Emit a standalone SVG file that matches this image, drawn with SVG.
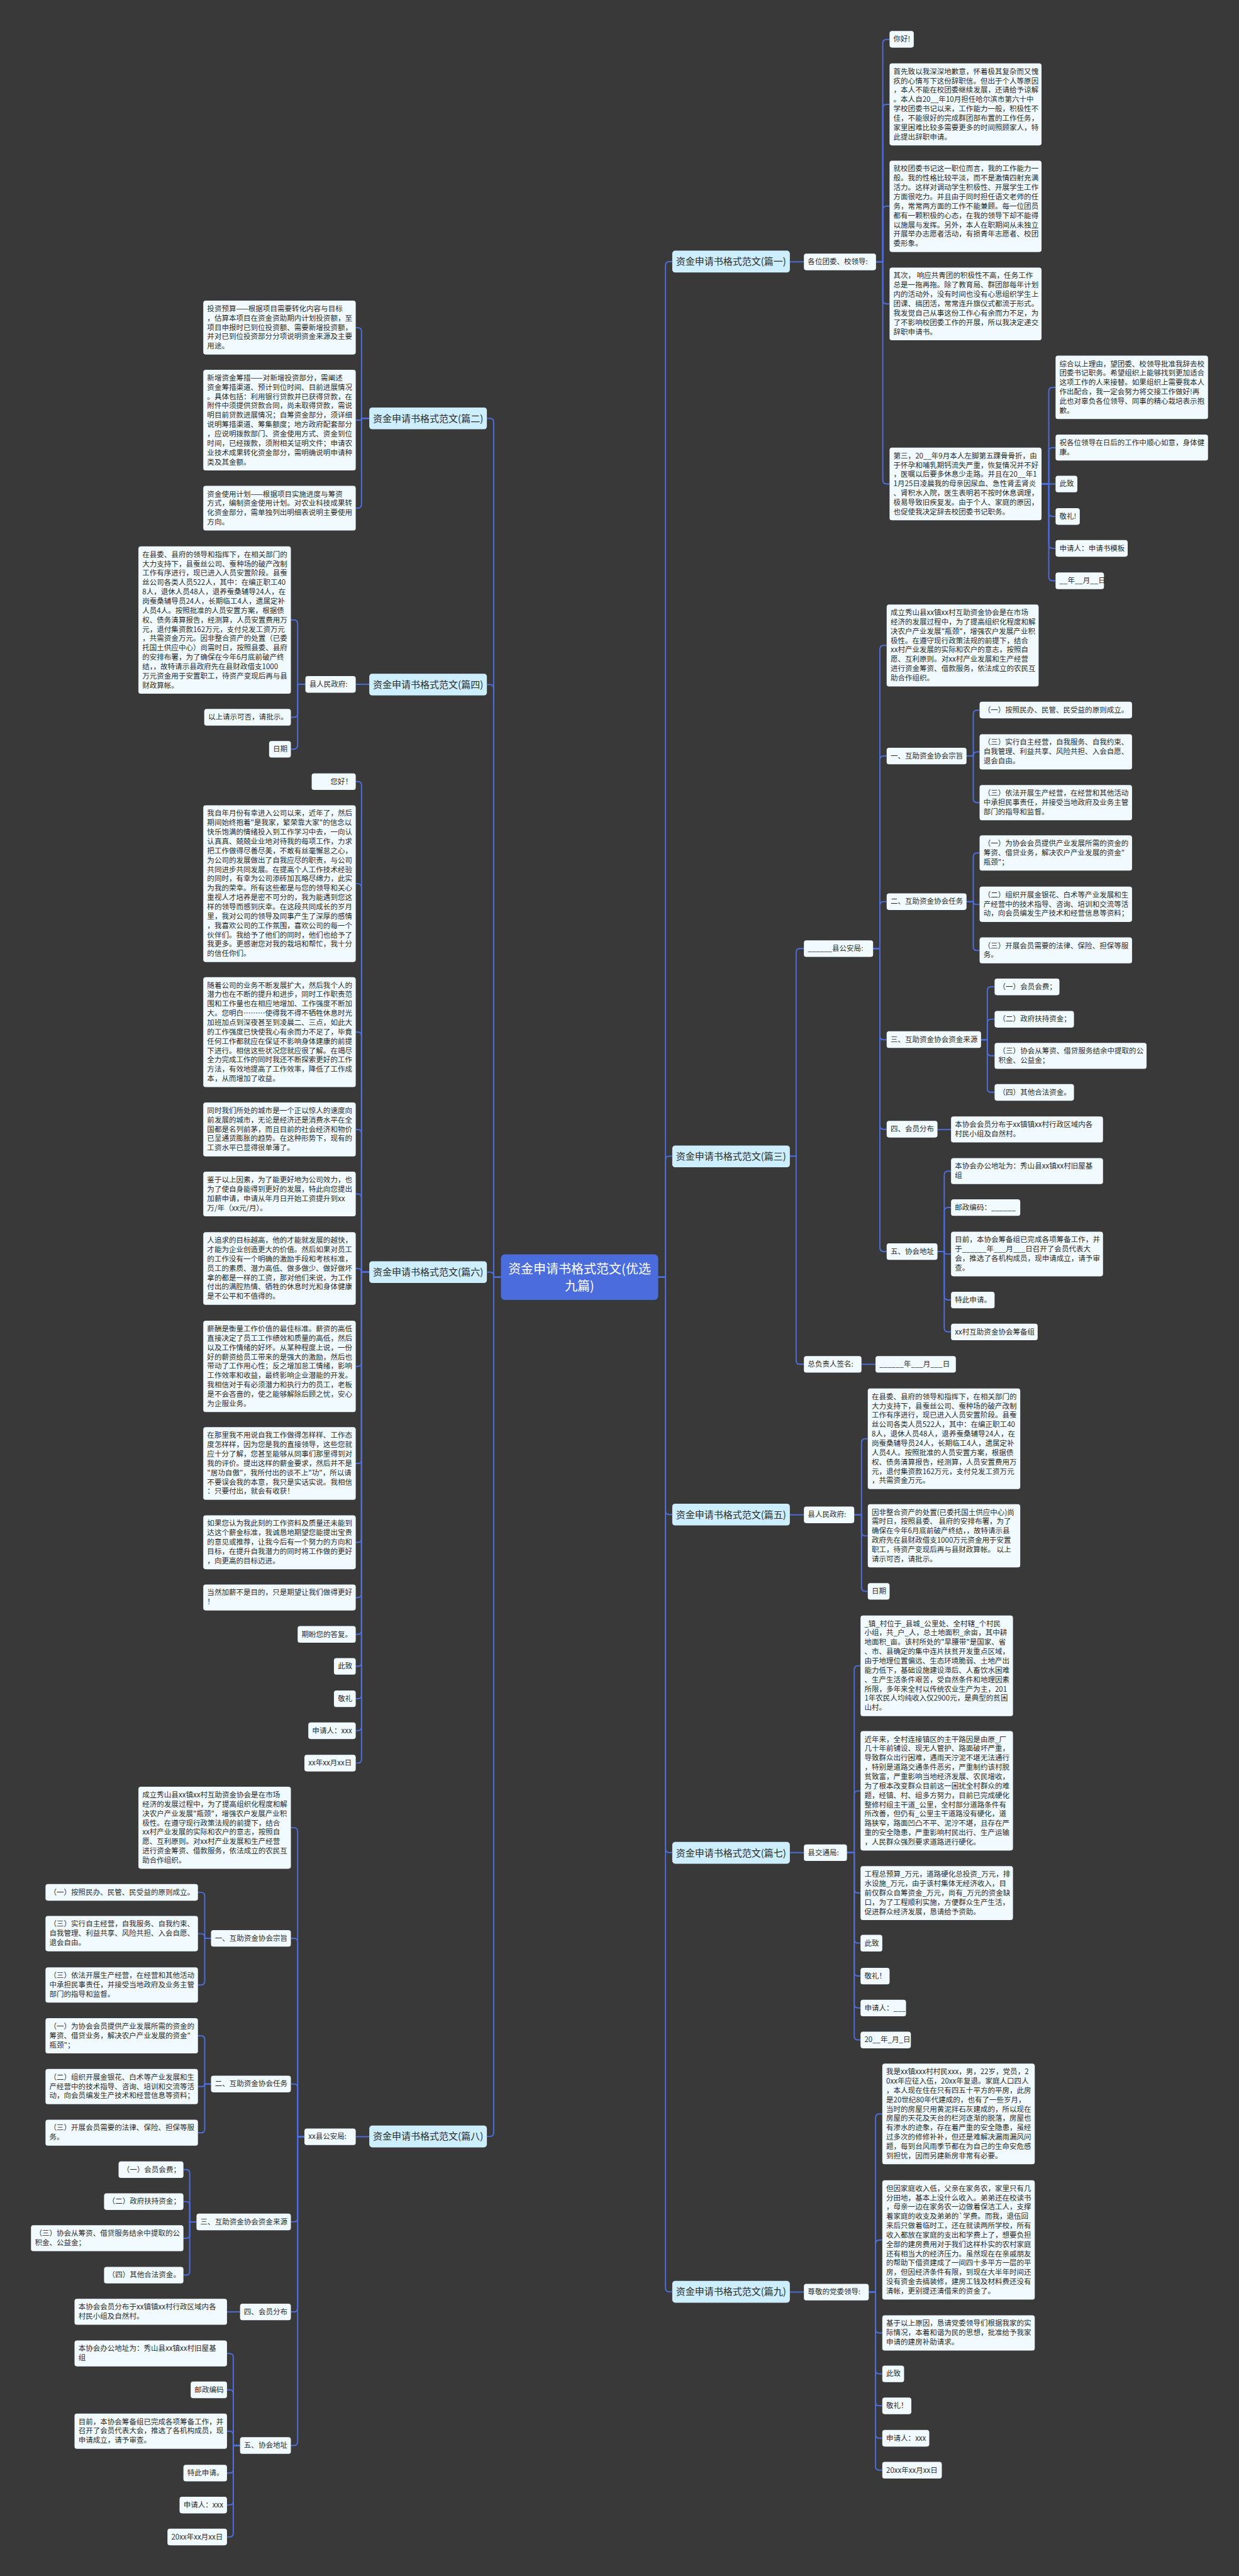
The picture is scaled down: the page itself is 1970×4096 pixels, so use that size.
<svg xmlns="http://www.w3.org/2000/svg" width="1970" height="4096" viewBox="0 0 1970 4096">
<style>
.n rect{fill:#f1fbff}
.n text{font-family:"Noto Sans CJK SC","Noto Sans",sans-serif;font-size:15px;fill:#2b2b2b}
.m rect{fill:#cdeefc}
.m text{font-family:"Noto Sans CJK SC","Noto Sans",sans-serif;font-size:19.5px;fill:#2b2b2b;text-anchor:middle}
.r rect{fill:#4a6cdc}
.r text{font-family:"Noto Sans CJK SC","Noto Sans",sans-serif;font-size:26px;fill:#ffffff;text-anchor:middle}
.c path{fill:none;stroke:#4d6edb;stroke-width:2.5}
</style>
<rect width="1970" height="4096" fill="#3a393a"/>
<g transform="scale(0.76953)">
<g class="c" id="connectors">
<path d="M1360 2639 H1375 V548.5 Q1375 540.5 1383 540.5 H1389"/>
<path d="M1360 2639 H1375 V2397 Q1375 2389 1383 2389 H1389"/>
<path d="M1360 2639 H1375 V3121.5 Q1375 3129.5 1383 3129.5 H1389"/>
<path d="M1360 2639 H1375 V3820 Q1375 3828 1383 3828 H1389"/>
<path d="M1360 2639 H1375 V4727.5 Q1375 4735.5 1383 4735.5 H1389"/>
<path d="M1035 2639 H1020 V872.5 Q1020 864.5 1012 864.5 H1006"/>
<path d="M1035 2639 H1020 V1422.5 Q1020 1414.5 1012 1414.5 H1006"/>
<path d="M1035 2639 H1020 V2636.5 Q1020 2628.5 1012 2628.5 H1006"/>
<path d="M1035 2639 H1020 V4406.5 Q1020 4414.5 1012 4414.5 H1006"/>
<path d="M1632 541 H1661"/>
<path d="M1810 541 H1824 V89.5 Q1824 81.5 1832 81.5 H1838"/>
<path d="M1810 541 H1824 V223.7 Q1824 215.7 1832 215.7 H1838"/>
<path d="M1810 541 H1824 V434 Q1824 426 1832 426 H1838"/>
<path d="M1810 541 H1824 V620 Q1824 628 1832 628 H1838"/>
<path d="M1810 541 H1824 V992 Q1824 1000 1832 1000 H1838"/>
<path d="M2152 1000 H2167 V808.5 Q2167 800.5 2175 800.5 H2181"/>
<path d="M2152 1000 H2167 V933 Q2167 925 2175 925 H2181"/>
<path d="M2152 1000 H2181"/>
<path d="M2152 1000 H2167 V1059 Q2167 1067 2175 1067 H2181"/>
<path d="M2152 1000 H2167 V1125 Q2167 1133 2175 1133 H2181"/>
<path d="M2152 1000 H2167 V1192 Q2167 1200 2175 1200 H2181"/>
<path d="M1632 2389 H1645 V1968 Q1645 1960 1653 1960 H1661"/>
<path d="M1632 2389 H1645 V2811 Q1645 2819 1653 2819 H1661"/>
<path d="M1780 2819 H1809"/>
<path d="M1804 1960 H1818 V1341.7 Q1818 1333.7 1826 1333.7 H1832"/>
<path d="M1804 1960 H1818 V1570 Q1818 1562 1826 1562 H1832"/>
<path d="M1804 1960 H1818 V1871 Q1818 1863 1826 1863 H1832"/>
<path d="M1804 1960 H1818 V2140.5 Q1818 2148.5 1826 2148.5 H1832"/>
<path d="M1804 1960 H1818 V2325.5 Q1818 2333.5 1826 2333.5 H1832"/>
<path d="M1804 1960 H1818 V2578 Q1818 2586 1826 2586 H1832"/>
<path d="M1997 1562 H2011 V1475.5 Q2011 1467.5 2019 1467.5 H2024"/>
<path d="M1997 1562 H2011 V1561.5 Q2011 1553.5 2019 1553.5 H2024"/>
<path d="M1997 1562 H2011 V1650.5 Q2011 1658.5 2019 1658.5 H2024"/>
<path d="M1997 1863 H2011 V1770.5 Q2011 1762.5 2019 1762.5 H2024"/>
<path d="M1997 1863 H2011 Q2011 1868.5 2016.5 1868.5 H2024"/>
<path d="M1997 1863 H2011 V1956 Q2011 1964 2019 1964 H2024"/>
<path d="M2027 2148.5 H2040 V2047 Q2040 2039 2048 2039 H2055"/>
<path d="M2027 2148.5 H2040 V2114 Q2040 2106 2048 2106 H2055"/>
<path d="M2027 2148.5 H2040 V2173.5 Q2040 2181.5 2048 2181.5 H2055"/>
<path d="M2027 2148.5 H2040 V2249 Q2040 2257 2048 2257 H2055"/>
<path d="M1937 2334 H1965"/>
<path d="M1937 2586 H1951 V2428 Q1951 2420 1959 2420 H1965"/>
<path d="M1937 2586 H1951 V2503 Q1951 2495 1959 2495 H1965"/>
<path d="M1937 2586 H1951 Q1951 2591 1956 2591 H1965"/>
<path d="M1937 2586 H1951 V2678 Q1951 2686 1959 2686 H1965"/>
<path d="M1937 2586 H1951 V2744 Q1951 2752 1959 2752 H1965"/>
<path d="M1632 3130 H1661"/>
<path d="M1765 3130 H1780 V2981 Q1780 2973 1788 2973 H1793"/>
<path d="M1765 3130 H1780 V3165.5 Q1780 3173.5 1788 3173.5 H1793"/>
<path d="M1765 3130 H1780 V3280 Q1780 3288 1788 3288 H1793"/>
<path d="M1632 3828 H1661"/>
<path d="M1750 3828 H1765 V3450 Q1765 3442 1773 3442 H1778"/>
<path d="M1750 3828 H1765 V3708.5 Q1765 3700.5 1773 3700.5 H1778"/>
<path d="M1750 3828 H1765 V3903.5 Q1765 3911.5 1773 3911.5 H1778"/>
<path d="M1750 3828 H1765 V4007 Q1765 4015 1773 4015 H1778"/>
<path d="M1750 3828 H1765 V4075 Q1765 4083 1773 4083 H1778"/>
<path d="M1750 3828 H1765 V4141 Q1765 4149 1773 4149 H1778"/>
<path d="M1750 3828 H1765 V4207 Q1765 4215 1773 4215 H1778"/>
<path d="M1632 4736 H1661"/>
<path d="M1795 4736 H1809 V4376 Q1809 4368 1817 4368 H1823"/>
<path d="M1795 4736 H1809 V4636.5 Q1809 4628.5 1817 4628.5 H1823"/>
<path d="M1795 4736 H1809 V4812.5 Q1809 4820.5 1817 4820.5 H1823"/>
<path d="M1795 4736 H1809 V4897 Q1809 4905 1817 4905 H1823"/>
<path d="M1795 4736 H1809 V4963 Q1809 4971 1817 4971 H1823"/>
<path d="M1795 4736 H1809 V5030 Q1809 5038 1817 5038 H1823"/>
<path d="M1795 4736 H1809 V5096 Q1809 5104 1817 5104 H1823"/>
<path d="M763 864.5 H747 V685 Q747 677 739 677 H735"/>
<path d="M763 864.5 H747 Q747 868 743.5 868 H735"/>
<path d="M763 864.5 H747 V1042 Q747 1050 739 1050 H735"/>
<path d="M763 1414 H735"/>
<path d="M631 1414 H615 V1289 Q615 1281 607 1281 H601"/>
<path d="M631 1414 H615 V1474 Q615 1482 607 1482 H601"/>
<path d="M631 1414 H615 V1540 Q615 1548 607 1548 H601"/>
<path d="M763 2628.5 H747 V1623 Q747 1615 739 1615 H735"/>
<path d="M763 2628.5 H747 V1834 Q747 1826 739 1826 H735"/>
<path d="M763 2628.5 H747 V2140.5 Q747 2132.5 739 2132.5 H735"/>
<path d="M763 2628.5 H747 V2342 Q747 2334 739 2334 H735"/>
<path d="M763 2628.5 H747 V2475 Q747 2467 739 2467 H735"/>
<path d="M763 2628.5 H747 Q747 2621 739.5 2621 H735"/>
<path d="M763 2628.5 H747 V2815.5 Q747 2823.5 739 2823.5 H735"/>
<path d="M763 2628.5 H747 V3016 Q747 3024 739 3024 H735"/>
<path d="M763 2628.5 H747 V3179 Q747 3187 739 3187 H735"/>
<path d="M763 2628.5 H747 V3293 Q747 3301 739 3301 H735"/>
<path d="M763 2628.5 H747 V3369 Q747 3377 739 3377 H735"/>
<path d="M763 2628.5 H747 V3435 Q747 3443 739 3443 H735"/>
<path d="M763 2628.5 H747 V3502 Q747 3510 739 3510 H735"/>
<path d="M763 2628.5 H747 V3568 Q747 3576 739 3576 H735"/>
<path d="M763 2628.5 H747 V3635 Q747 3643 739 3643 H735"/>
<path d="M763 4415 H735"/>
<path d="M629 4415 H615 V3784.5 Q615 3776.5 607 3776.5 H601"/>
<path d="M629 4415 H615 V4013 Q615 4005 607 4005 H601"/>
<path d="M629 4415 H615 V4314 Q615 4306 607 4306 H601"/>
<path d="M629 4415 H615 V4583 Q615 4591 607 4591 H601"/>
<path d="M629 4415 H615 V4769 Q615 4777 607 4777 H601"/>
<path d="M629 4415 H615 V5045 Q615 5053 607 5053 H601"/>
<path d="M436 4005 H423 V3918 Q423 3910 415 3910 H409"/>
<path d="M436 4005 H423 V4003.5 Q423 3995.5 415 3995.5 H409"/>
<path d="M436 4005 H423 V4093.5 Q423 4101.5 415 4101.5 H409"/>
<path d="M436 4306 H423 V4214.5 Q423 4206.5 415 4206.5 H409"/>
<path d="M436 4306 H423 Q423 4311.5 417.5 4311.5 H409"/>
<path d="M436 4306 H423 V4399 Q423 4407 415 4407 H409"/>
<path d="M406 4591 H392 V4491 Q392 4483 384 4483 H379"/>
<path d="M406 4591 H392 V4557 Q392 4549 384 4549 H379"/>
<path d="M406 4591 H392 V4617 Q392 4625 384 4625 H379"/>
<path d="M406 4591 H392 V4693 Q392 4701 384 4701 H379"/>
<path d="M496 4777 H469"/>
<path d="M496 5053 H482 V4871 Q482 4863 474 4863 H469"/>
<path d="M496 5053 H482 V4946 Q482 4938 474 4938 H469"/>
<path d="M496 5053 H482 V5031.5 Q482 5023.5 474 5023.5 H469"/>
<path d="M496 5053 H482 V5102 Q482 5110 474 5110 H469"/>
<path d="M496 5053 H482 V5168 Q482 5176 474 5176 H469"/>
<path d="M496 5053 H482 V5234 Q482 5242 474 5242 H469"/>
</g>

<g id="root" class="r"><rect x="1035" y="2592" width="325" height="94" rx="8"/><text x="1197.5" y="2631">资金申请书格式范文(优选</text><text x="1197.5" y="2666">九篇)</text></g>

<g id="p1" class="m"><rect x="1389" y="518" width="243" height="45" rx="6"/><text x="1510.5" y="547.5">资金申请书格式范文(篇一)</text></g>
<g id="p3" class="m"><rect x="1389" y="2367" width="243" height="45" rx="6"/><text x="1510.5" y="2396.5">资金申请书格式范文(篇三)</text></g>
<g id="p5" class="m"><rect x="1389" y="3107" width="243" height="45" rx="6"/><text x="1510.5" y="3136.5">资金申请书格式范文(篇五)</text></g>
<g id="p7" class="m"><rect x="1389" y="3806" width="243" height="45" rx="6"/><text x="1510.5" y="3835.5">资金申请书格式范文(篇七)</text></g>
<g id="p9" class="m"><rect x="1389" y="4713" width="243" height="45" rx="6"/><text x="1510.5" y="4742.5">资金申请书格式范文(篇九)</text></g>
<g id="p2" class="m"><rect x="763" y="842" width="243" height="45" rx="6"/><text x="884.5" y="871.5">资金申请书格式范文(篇二)</text></g>
<g id="p4" class="m"><rect x="763" y="1392" width="243" height="45" rx="6"/><text x="884.5" y="1421.5">资金申请书格式范文(篇四)</text></g>
<g id="p6" class="m"><rect x="763" y="2606" width="243" height="45" rx="6"/><text x="884.5" y="2635.5">资金申请书格式范文(篇六)</text></g>
<g id="p8" class="m"><rect x="763" y="4392" width="243" height="45" rx="6"/><text x="884.5" y="4421.5">资金申请书格式范文(篇八)</text></g>

<!-- 篇一 -->
<g id="p1-a" class="n"><rect x="1661" y="524" width="149" height="34.3" rx="5"/><text x="1669" y="546">各位团委、校领导:</text></g>
<g id="p1-a1" class="n"><rect x="1838" y="64" width="50" height="34.3" rx="5"/><text x="1846" y="86">你好!</text></g>
<g id="p1-a2" class="n"><rect x="1838" y="131" width="314" height="169.4" rx="5"/><text x="1846" y="153"><tspan x="1846">首先致以我深深地歉意，怀着极其复杂而又愧</tspan><tspan x="1846" dy="19.3">疚的心情写下这份辞职信。但出于个人等原因</tspan><tspan x="1846" dy="19.3">，本人不能在校团委继续发展，还请给予谅解</tspan><tspan x="1846" dy="19.3">。本人自20__年10月担任哈尔滨市第六十中</tspan><tspan x="1846" dy="19.3">学校团委书记以来，工作能力一般，积极性不</tspan><tspan x="1846" dy="19.3">佳，不能很好的完成群团部布置的工作任务，</tspan><tspan x="1846" dy="19.3">家里困难比较多需要更多的时间照顾家人，特</tspan><tspan x="1846" dy="19.3">此提出辞职申请。</tspan></text></g>
<g id="p1-a3" class="n"><rect x="1838" y="332" width="314" height="188.7" rx="5"/><text x="1846" y="354"><tspan x="1846">就校团委书记这一职位而言，我的工作能力一</tspan><tspan x="1846" dy="19.3">般。我的性格比较平淡，而不是激情四射充满</tspan><tspan x="1846" dy="19.3">活力。这样对调动学生积极性、开展学生工作</tspan><tspan x="1846" dy="19.3">方面很吃力。并且由于同时担任语文老师的任</tspan><tspan x="1846" dy="19.3">务，常常两方面的工作不能兼顾。每一位团员</tspan><tspan x="1846" dy="19.3">都有一颗积极的心态，在我的领导下却不能得</tspan><tspan x="1846" dy="19.3">以施展与发挥。另外，本人在职期间从未独立</tspan><tspan x="1846" dy="19.3">开展举办志愿者活动，有损青年志愿者、校团</tspan><tspan x="1846" dy="19.3">委形象。</tspan></text></g>
<g id="p1-a4" class="n"><rect x="1838" y="553" width="314" height="150.1" rx="5"/><text x="1846" y="575"><tspan x="1846">其次， 响应共青团的积极性不高，任务工作</tspan><tspan x="1846" dy="19.3">总是一拖再拖。除了教育局、群团部每年计划</tspan><tspan x="1846" dy="19.3">内的活动外，没有时间也没有心思组织学生上</tspan><tspan x="1846" dy="19.3">团课、搞团活，常常连升旗仪式都流于形式。</tspan><tspan x="1846" dy="19.3">我发觉自己从事这份工作心有余而力不足，为</tspan><tspan x="1846" dy="19.3">了不影响校团委工作的开展，所以我决定递交</tspan><tspan x="1846" dy="19.3">辞职申请书。</tspan></text></g>
<g id="p1-a5" class="n"><rect x="1838" y="925" width="314" height="150.1" rx="5"/><text x="1846" y="947"><tspan x="1846">第三，20__年9月本人左脚第五踝骨骨折，由</tspan><tspan x="1846" dy="19.3">于怀孕和哺乳期钙流失严重，恢复情况并不好</tspan><tspan x="1846" dy="19.3">，医嘱以后要多休息少走路。并且在20__年1</tspan><tspan x="1846" dy="19.3">1月25日凌晨我的母亲因尿血、急性肾盂肾炎</tspan><tspan x="1846" dy="19.3">、肾积水入院，医生表明若不按时休息调理，</tspan><tspan x="1846" dy="19.3">极易导致旧疾复发。由于个人、家庭的原因，</tspan><tspan x="1846" dy="19.3">也促使我决定辞去校团委书记职务。</tspan></text></g>
<g id="p1-b1" class="n"><rect x="2181" y="735" width="315" height="130.8" rx="5"/><text x="2189" y="757"><tspan x="2189">综合以上理由，望团委、校领导批准我辞去校</tspan><tspan x="2189" dy="19.3">团委书记职务。希望组织上能够找到更加适合</tspan><tspan x="2189" dy="19.3">这项工作的人来接替。如果组织上需要我本人</tspan><tspan x="2189" dy="19.3">作出配合，我一定会努力将交接工作做好!再</tspan><tspan x="2189" dy="19.3">此也对辜负各位领导、同事的精心栽培表示抱</tspan><tspan x="2189" dy="19.3">歉。</tspan></text></g>
<g id="p1-b2" class="n"><rect x="2181" y="898" width="315" height="53.6" rx="5"/><text x="2189" y="920"><tspan x="2189">祝各位领导在日后的工作中顺心如意，身体健</tspan><tspan x="2189" dy="19.3">康。</tspan></text></g>
<g id="p1-b3" class="n"><rect x="2181" y="983" width="45" height="34.3" rx="5"/><text x="2189" y="1005">此致</text></g>
<g id="p1-b4" class="n"><rect x="2181" y="1050" width="50" height="34.3" rx="5"/><text x="2189" y="1072">敬礼!</text></g>
<g id="p1-b5" class="n"><rect x="2181" y="1116" width="149" height="34.3" rx="5"/><text x="2189" y="1138">申请人：申请书模板</text></g>
<g id="p1-b6" class="n"><rect x="2181" y="1183" width="100" height="34.3" rx="5"/><text x="2189" y="1205">__年__月__日</text></g>

<!-- 篇三 -->
<g id="p3-a" class="n"><rect x="1661" y="1943" width="143" height="34.3" rx="5"/><text x="1669" y="1965">______县公安局:</text></g>
<g id="p3-b" class="n"><rect x="1661" y="2802" width="119" height="34.3" rx="5"/><text x="1669" y="2824">总负责人签名:</text></g>
<g id="p3-b1" class="n"><rect x="1809" y="2802" width="166" height="34.3" rx="5"/><text x="1817" y="2824">______年___月___日</text></g>
<g id="p3-a1" class="n"><rect x="1832" y="1249" width="314" height="169.4" rx="5"/><text x="1840" y="1271"><tspan x="1840">成立秀山县xx镇xx村互助资金协会是在市场</tspan><tspan x="1840" dy="19.3">经济的发展过程中，为了提高组织化程度和解</tspan><tspan x="1840" dy="19.3">决农户产业发展"瓶颈"，增强农户发展产业积</tspan><tspan x="1840" dy="19.3">极性。在遵守现行政策法规的前提下，结合</tspan><tspan x="1840" dy="19.3">xx村产业发展的实际和农户的意志，按照自</tspan><tspan x="1840" dy="19.3">愿、互利原则。对xx村产业发展和生产经营</tspan><tspan x="1840" dy="19.3">进行资金筹资、借款服务，依法成立的农民互</tspan><tspan x="1840" dy="19.3">助合作组织。</tspan></text></g>
<g id="p3-a2" class="n"><rect x="1832" y="1545" width="165" height="34.3" rx="5"/><text x="1840" y="1567">一、互助资金协会宗旨</text></g>
<g id="p3-a3" class="n"><rect x="1832" y="1846" width="165" height="34.3" rx="5"/><text x="1840" y="1868">二、互助资金协会任务</text></g>
<g id="p3-a4" class="n"><rect x="1832" y="2131" width="195" height="34.3" rx="5"/><text x="1840" y="2153">三、互助资金协会资金来源</text></g>
<g id="p3-a5" class="n"><rect x="1832" y="2316" width="105" height="34.3" rx="5"/><text x="1840" y="2338">四、会员分布</text></g>
<g id="p3-a6" class="n"><rect x="1832" y="2569" width="105" height="34.3" rx="5"/><text x="1840" y="2591">五、协会地址</text></g>
<g id="p3-a2-1" class="n"><rect x="2024" y="1450" width="315" height="34.3" rx="5"/><text x="2032" y="1472">（一）按照民办、民管、民受益的原则成立。</text></g>
<g id="p3-a2-2" class="n"><rect x="2024" y="1517" width="315" height="72.9" rx="5"/><text x="2032" y="1539"><tspan x="2032">（三）实行自主经营，自我服务、自我约束、</tspan><tspan x="2032" dy="19.3">自我管理、利益共享、风险共担、入会自愿、</tspan><tspan x="2032" dy="19.3">退会自由。</tspan></text></g>
<g id="p3-a2-3" class="n"><rect x="2024" y="1622" width="315" height="72.9" rx="5"/><text x="2032" y="1644"><tspan x="2032">（三）依法开展生产经营，在经营和其他活动</tspan><tspan x="2032" dy="19.3">中承担民事责任，并接受当地政府及业务主管</tspan><tspan x="2032" dy="19.3">部门的指导和监督。</tspan></text></g>
<g id="p3-a3-1" class="n"><rect x="2024" y="1726" width="315" height="72.9" rx="5"/><text x="2032" y="1748"><tspan x="2032">（一）为协会会员提供产业发展所需的资金的</tspan><tspan x="2032" dy="19.3">筹资、借贷业务，解决农户产业发展的资金"</tspan><tspan x="2032" dy="19.3">瓶颈"；</tspan></text></g>
<g id="p3-a3-2" class="n"><rect x="2024" y="1832" width="315" height="72.9" rx="5"/><text x="2032" y="1854"><tspan x="2032">（二）组织开展金银花、白术等产业发展和生</tspan><tspan x="2032" dy="19.3">产经营中的技术指导、咨询、培训和交流等活</tspan><tspan x="2032" dy="19.3">动，向会员编发生产技术和经营信息等资料；</tspan></text></g>
<g id="p3-a3-3" class="n"><rect x="2024" y="1937" width="315" height="53.6" rx="5"/><text x="2032" y="1959"><tspan x="2032">（三）开展会员需要的法律、保险、担保等服</tspan><tspan x="2032" dy="19.3">务。</tspan></text></g>
<g id="p3-a4-1" class="n"><rect x="2055" y="2022" width="134" height="34.3" rx="5"/><text x="2063" y="2044">（一）会员会费；</text></g>
<g id="p3-a4-2" class="n"><rect x="2055" y="2089" width="164" height="34.3" rx="5"/><text x="2063" y="2111">（二）政府扶持资金；</text></g>
<g id="p3-a4-3" class="n"><rect x="2055" y="2155" width="314" height="53.6" rx="5"/><text x="2063" y="2177"><tspan x="2063">（三）协会从筹资、借贷服务结余中提取的公</tspan><tspan x="2063" dy="19.3">积金、公益金；</tspan></text></g>
<g id="p3-a4-4" class="n"><rect x="2055" y="2240" width="164" height="34.3" rx="5"/><text x="2063" y="2262">（四）其他合法资金。</text></g>
<g id="p3-a5-1" class="n"><rect x="1965" y="2307" width="314" height="53.6" rx="5"/><text x="1973" y="2329"><tspan x="1973">本协会会员分布于xx镇镇xx村行政区域内各</tspan><tspan x="1973" dy="19.3">村民小组及自然村。</tspan></text></g>
<g id="p3-a6-1" class="n"><rect x="1965" y="2393" width="314" height="53.6" rx="5"/><text x="1973" y="2415"><tspan x="1973">本协会办公地址为：秀山县xx镇xx村旧屋基</tspan><tspan x="1973" dy="19.3">组</tspan></text></g>
<g id="p3-a6-2" class="n"><rect x="1965" y="2478" width="143" height="34.3" rx="5"/><text x="1973" y="2500">邮政编码：______</text></g>
<g id="p3-a6-3" class="n"><rect x="1965" y="2545" width="314" height="92.2" rx="5"/><text x="1973" y="2567"><tspan x="1973">目前，本协会筹备组已完成各项筹备工作，并</tspan><tspan x="1973" dy="19.3">于______年___月___日召开了会员代表大</tspan><tspan x="1973" dy="19.3">会，推选了各机构成员，现申请成立，请予审</tspan><tspan x="1973" dy="19.3">查。</tspan></text></g>
<g id="p3-a6-4" class="n"><rect x="1965" y="2669" width="90" height="34.3" rx="5"/><text x="1973" y="2691">特此申请。</text></g>
<g id="p3-a6-5" class="n"><rect x="1965" y="2735" width="179" height="34.3" rx="5"/><text x="1973" y="2757">xx村互助资金协会筹备组</text></g>

<!-- 篇五 -->
<g id="p5-a" class="n"><rect x="1661" y="3113" width="104" height="34.3" rx="5"/><text x="1669" y="3135">县人民政府:</text></g>
<g id="p5-a1" class="n"><rect x="1793" y="2869" width="315" height="208" rx="5"/><text x="1801" y="2891"><tspan x="1801">在县委、县府的领导和指挥下，在相关部门的</tspan><tspan x="1801" dy="19.3">大力支持下，县蚕丝公司、蚕种场的破产改制</tspan><tspan x="1801" dy="19.3">工作有序进行，现已进入人员安置阶段。县蚕</tspan><tspan x="1801" dy="19.3">丝公司各类人员522人，其中：在编正职工40</tspan><tspan x="1801" dy="19.3">8人，退休人员48人，退养蚕桑辅导24人，在</tspan><tspan x="1801" dy="19.3">岗蚕桑辅导员24人，长期临工4人，遗属定补</tspan><tspan x="1801" dy="19.3">人员4人。按照批准的人员安置方案，根据债</tspan><tspan x="1801" dy="19.3">权、债务清算报告，经测算，人员安置费用万</tspan><tspan x="1801" dy="19.3">元，退付集资款162万元，支付兑发工资万元</tspan><tspan x="1801" dy="19.3">，共需资金万元。</tspan></text></g>
<g id="p5-a2" class="n"><rect x="1793" y="3108" width="315" height="130.8" rx="5"/><text x="1801" y="3130"><tspan x="1801">因非整合资产的处置(已委托国土供应中心)尚</tspan><tspan x="1801" dy="19.3">需时日，按照县委、 县府的安排布署，为了</tspan><tspan x="1801" dy="19.3">确保在今年6月底前破产终结，，故特请示县</tspan><tspan x="1801" dy="19.3">政府先在县财政借支1000万元资金用于安置</tspan><tspan x="1801" dy="19.3">职工，待资产变现后再与县财政算帐。 以上</tspan><tspan x="1801" dy="19.3">请示可否，请批示。</tspan></text></g>
<g id="p5-a3" class="n"><rect x="1793" y="3271" width="45" height="34.3" rx="5"/><text x="1801" y="3293">日期</text></g>

<!-- 篇七 -->
<g id="p7-a" class="n"><rect x="1661" y="3811" width="89" height="34.3" rx="5"/><text x="1669" y="3833">县交通局:</text></g>
<g id="p7-a1" class="n"><rect x="1778" y="3338" width="315" height="208" rx="5"/><text x="1786" y="3360"><tspan x="1786">_镇_村位于_县城_公里处、全村辖_个村民</tspan><tspan x="1786" dy="19.3">小组，共_户_人，总土地面积_余亩，其中耕</tspan><tspan x="1786" dy="19.3">地面积_亩。该村所处的"旱腰带"是国家、省</tspan><tspan x="1786" dy="19.3">、市、县确定的集中连片扶贫开发重点区域，</tspan><tspan x="1786" dy="19.3">由于地理位置偏远、生态环境脆弱、土地产出</tspan><tspan x="1786" dy="19.3">能力低下，基础设施建设滞后、人畜饮水困难</tspan><tspan x="1786" dy="19.3">、生产生活条件艰苦，受自然条件和地理因素</tspan><tspan x="1786" dy="19.3">所限，多年来全村以传统农业生产为主，201</tspan><tspan x="1786" dy="19.3">1年农民人均纯收入仅2900元，是典型的贫困</tspan><tspan x="1786" dy="19.3">山村。</tspan></text></g>
<g id="p7-a2" class="n"><rect x="1778" y="3577" width="315" height="246.6" rx="5"/><text x="1786" y="3599"><tspan x="1786">近年来，全村连接镇区的主干路因是由原_厂</tspan><tspan x="1786" dy="19.3">几十年前铺设、现无人管护、路面破坏严重，</tspan><tspan x="1786" dy="19.3">导致群众出行困难，遇雨天泞泥不堪无法通行</tspan><tspan x="1786" dy="19.3">，特别是道路交通条件恶劣，严重制约该村脱</tspan><tspan x="1786" dy="19.3">贫致富，严重影响当地经济发展、农民增收，</tspan><tspan x="1786" dy="19.3">为了根本改变群众目前这一困扰全村群众的难</tspan><tspan x="1786" dy="19.3">题，经镇、村、组多方努力，目前已完成硬化</tspan><tspan x="1786" dy="19.3">整修村组主干道_公里，全村部分道路条件有</tspan><tspan x="1786" dy="19.3">所改善，但仍有_公里主干道路没有硬化，道</tspan><tspan x="1786" dy="19.3">路狭窄，路面凹凸不平、泥泞不堪，且存在严</tspan><tspan x="1786" dy="19.3">重的安全隐患，严重影响村民出行、生产运输</tspan><tspan x="1786" dy="19.3">，人民群众强烈要求道路进行硬化。</tspan></text></g>
<g id="p7-a3" class="n"><rect x="1778" y="3856" width="315" height="111.5" rx="5"/><text x="1786" y="3878"><tspan x="1786">工程总预算_万元，道路硬化总投资_万元，排</tspan><tspan x="1786" dy="19.3">水设施_万元，由于该村集体无经济收入，目</tspan><tspan x="1786" dy="19.3">前仅群众自筹资金_万元，尚有_万元的资金缺</tspan><tspan x="1786" dy="19.3">口，为了工程顺利实施，方便群众生产生活，</tspan><tspan x="1786" dy="19.3">促进群众经济发展，恳请给予资助。</tspan></text></g>
<g id="p7-a4" class="n"><rect x="1778" y="3998" width="45" height="34.3" rx="5"/><text x="1786" y="4020">此致</text></g>
<g id="p7-a5" class="n"><rect x="1778" y="4066" width="60" height="34.3" rx="5"/><text x="1786" y="4088">敬礼！</text></g>
<g id="p7-a6" class="n"><rect x="1778" y="4132" width="94" height="34.3" rx="5"/><text x="1786" y="4154">申请人：___</text></g>
<g id="p7-a7" class="n"><rect x="1778" y="4198" width="104" height="34.3" rx="5"/><text x="1786" y="4220">20__年_月_日</text></g>

<!-- 篇九 -->
<g id="p9-a" class="n"><rect x="1661" y="4719" width="134" height="34.3" rx="5"/><text x="1669" y="4741">尊敬的党委领导:</text></g>
<g id="p9-a1" class="n"><rect x="1823" y="4264" width="315" height="208" rx="5"/><text x="1831" y="4286"><tspan x="1831">我是xx镇xxx村村民xxx，男，22岁，党员，2</tspan><tspan x="1831" dy="19.3">0xx年应征入伍，20xx年复退。家庭人口四人</tspan><tspan x="1831" dy="19.3">，本人现在住在只有四五十平方的平房，此房</tspan><tspan x="1831" dy="19.3">是20世纪80年代建成的，也有了一些岁月，</tspan><tspan x="1831" dy="19.3">当时的房屋只用黄泥拌石灰建成的，所以现在</tspan><tspan x="1831" dy="19.3">房屋的天花及天台的栏河逐渐的脱落，房屋也</tspan><tspan x="1831" dy="19.3">有渗水的迹象，存在着严重的安全隐患，虽经</tspan><tspan x="1831" dy="19.3">过多次的修修补补，但还是难解决漏雨漏风问</tspan><tspan x="1831" dy="19.3">题，每到台风雨季节都在为自己的生命安危感</tspan><tspan x="1831" dy="19.3">到担忧，因而另建新房非常有必要。</tspan></text></g>
<g id="p9-a2" class="n"><rect x="1823" y="4505" width="315" height="246.6" rx="5"/><text x="1831" y="4527"><tspan x="1831">但因家庭收入低，父亲在家务农，家里只有几</tspan><tspan x="1831" dy="19.3">分田地，基本上没什么收入。弟弟还在校读书</tspan><tspan x="1831" dy="19.3">，母亲一边在家务农一边做着保洁工人，支撑</tspan><tspan x="1831" dy="19.3">着家庭的收支及弟弟的`学费。而我，退伍回</tspan><tspan x="1831" dy="19.3">来后只做着临时工，还在就读两所学校，所有</tspan><tspan x="1831" dy="19.3">收入都放在家庭的支出和学费上了，想要负担</tspan><tspan x="1831" dy="19.3">全部的建房费用对于我们这样朴实的农村家庭</tspan><tspan x="1831" dy="19.3">还有相当大的经济压力。虽然现在在亲戚朋友</tspan><tspan x="1831" dy="19.3">的帮助下借资建成了一间四十多平方一层的平</tspan><tspan x="1831" dy="19.3">房，但因经济条件有限，到现在大半年时间还</tspan><tspan x="1831" dy="19.3">没有资金去搞装修，建房工钱及材料费还没有</tspan><tspan x="1831" dy="19.3">清帐，更别提还清借来的资金了。</tspan></text></g>
<g id="p9-a3" class="n"><rect x="1823" y="4784" width="315" height="72.9" rx="5"/><text x="1831" y="4806"><tspan x="1831">基于以上原因，恳请党委领导们根据我家的实</tspan><tspan x="1831" dy="19.3">际情况，本着和谐为民的思想，批准给予我家</tspan><tspan x="1831" dy="19.3">申请的建房补助请求。</tspan></text></g>
<g id="p9-a4" class="n"><rect x="1823" y="4888" width="45" height="34.3" rx="5"/><text x="1831" y="4910">此致</text></g>
<g id="p9-a5" class="n"><rect x="1823" y="4954" width="60" height="34.3" rx="5"/><text x="1831" y="4976">敬礼！</text></g>
<g id="p9-a6" class="n"><rect x="1823" y="5021" width="97" height="34.3" rx="5"/><text x="1831" y="5043">申请人：xxx</text></g>
<g id="p9-a7" class="n"><rect x="1823" y="5087" width="123" height="34.3" rx="5"/><text x="1831" y="5109">20xx年xx月xx日</text></g>

<!-- 篇二 -->
<g id="p2-a1" class="n"><rect x="420" y="621" width="315" height="111.5" rx="5"/><text x="428" y="643"><tspan x="428">投资预算——根据项目需要转化内容与目标</tspan><tspan x="428" dy="19.3">，估算本项目在资金资助期内计划投资额，至</tspan><tspan x="428" dy="19.3">项目申报时已到位投资额、需要新增投资额，</tspan><tspan x="428" dy="19.3">并对已到位投资部分分项说明资金来源及主要</tspan><tspan x="428" dy="19.3">用途。</tspan></text></g>
<g id="p2-a2" class="n"><rect x="420" y="764" width="315" height="208" rx="5"/><text x="428" y="786"><tspan x="428">新增资金筹措——对新增投资部分，需阐述</tspan><tspan x="428" dy="19.3">资金筹措渠道、预计到位时间、目前进展情况</tspan><tspan x="428" dy="19.3">。具体包括：利用银行贷款并已获得贷款，在</tspan><tspan x="428" dy="19.3">附件中须提供贷款合同，尚未取得贷款，需说</tspan><tspan x="428" dy="19.3">明目前贷款进展情况；自筹资金部分，须详细</tspan><tspan x="428" dy="19.3">说明筹措渠道、筹集额度；地方政府配套部分</tspan><tspan x="428" dy="19.3">，应说明拨款部门、资金使用方式、资金到位</tspan><tspan x="428" dy="19.3">时间，已经拨款，须附相关证明文件；申请农</tspan><tspan x="428" dy="19.3">业技术成果转化资金部分，需明确说明申请种</tspan><tspan x="428" dy="19.3">类及其金额。</tspan></text></g>
<g id="p2-a3" class="n"><rect x="420" y="1004" width="315" height="92.2" rx="5"/><text x="428" y="1026"><tspan x="428">资金使用计划——根据项目实施进度与筹资</tspan><tspan x="428" dy="19.3">方式，编制资金使用计划。对农业科技成果转</tspan><tspan x="428" dy="19.3">化资金部分，需单独列出明细表说明主要使用</tspan><tspan x="428" dy="19.3">方向。</tspan></text></g>

<!-- 篇四 -->
<g id="p4-a" class="n"><rect x="631" y="1397" width="104" height="34.3" rx="5"/><text x="639" y="1419">县人民政府:</text></g>
<g id="p4-a1" class="n"><rect x="286" y="1129" width="315" height="304.5" rx="5"/><text x="294" y="1151"><tspan x="294">在县委、县府的领导和指挥下，在相关部门的</tspan><tspan x="294" dy="19.3">大力支持下，县蚕丝公司、蚕种场的破产改制</tspan><tspan x="294" dy="19.3">工作有序进行，现已进入人员安置阶段。县蚕</tspan><tspan x="294" dy="19.3">丝公司各类人员522人，其中：在编正职工40</tspan><tspan x="294" dy="19.3">8人，退休人员48人，退养蚕桑辅导24人，在</tspan><tspan x="294" dy="19.3">岗蚕桑辅导员24人，长期临工4人，遗属定补</tspan><tspan x="294" dy="19.3">人员4人。按照批准的人员安置方案，根据债</tspan><tspan x="294" dy="19.3">权、债务清算报告，经测算，人员安置费用万</tspan><tspan x="294" dy="19.3">元，退付集资款162万元，支付兑发工资万元</tspan><tspan x="294" dy="19.3">，共需资金万元。因非整合资产的处置（已委</tspan><tspan x="294" dy="19.3">托国土供应中心）尚需时日，按照县委、县府</tspan><tspan x="294" dy="19.3">的安排布署，为了确保在今年6月底前破产终</tspan><tspan x="294" dy="19.3">结，，故特请示县政府先在县财政借支1000</tspan><tspan x="294" dy="19.3">万元资金用于安置职工，待资产变现后再与县</tspan><tspan x="294" dy="19.3">财政算帐。</tspan></text></g>
<g id="p4-a2" class="n"><rect x="422" y="1465" width="179" height="34.3" rx="5"/><text x="430" y="1487">以上请示可否，请批示。</text></g>
<g id="p4-a3" class="n"><rect x="556" y="1531" width="45" height="34.3" rx="5"/><text x="564" y="1553">日期</text></g>

<!-- 篇六 -->
<g id="p6-a1" class="n"><rect x="644" y="1598" width="91" height="34.3" rx="5"/><text x="683" y="1620">您好！</text></g>
<g id="p6-a2" class="n"><rect x="420" y="1664" width="315" height="323.8" rx="5"/><text x="428" y="1686"><tspan x="428">我自年月份有幸进入公司以来，近年了，然后</tspan><tspan x="428" dy="19.3">期间始终抱着"是我家，繁荣靠大家"的信念以</tspan><tspan x="428" dy="19.3">快乐饱满的情绪投入到工作学习中去，一向认</tspan><tspan x="428" dy="19.3">认真真、兢兢业业地对待我的每项工作，力求</tspan><tspan x="428" dy="19.3">把工作做得尽善尽美，不敢有丝毫懈怠之心，</tspan><tspan x="428" dy="19.3">为公司的发展做出了自我应尽的职责，与公司</tspan><tspan x="428" dy="19.3">共同进步共同发展。在提高个人工作技术经验</tspan><tspan x="428" dy="19.3">的同时，有幸为公司添砖加瓦略尽绵力，此实</tspan><tspan x="428" dy="19.3">为我的荣幸。所有这些都是与您的领导和关心</tspan><tspan x="428" dy="19.3">重视人才培养是密不可分的，我为能遇到您这</tspan><tspan x="428" dy="19.3">样的领导而感到庆幸。在这段共同成长的岁月</tspan><tspan x="428" dy="19.3">里，我对公司的领导及同事产生了深厚的感情</tspan><tspan x="428" dy="19.3">，我喜欢公司的工作氛围，喜欢公司的每一个</tspan><tspan x="428" dy="19.3">伙伴们。我给予了他们的同时，他们也给予了</tspan><tspan x="428" dy="19.3">我更多。更感谢您对我的栽培和帮忙，我十分</tspan><tspan x="428" dy="19.3">的信任你们。</tspan></text></g>
<g id="p6-a3" class="n"><rect x="420" y="2019" width="315" height="227.3" rx="5"/><text x="428" y="2041"><tspan x="428">随着公司的业务不断发展扩大，然后我个人的</tspan><tspan x="428" dy="19.3">潜力也在不断的提升和进步，同时工作职责范</tspan><tspan x="428" dy="19.3">围和工作量也在相应地增加、工作强度不断加</tspan><tspan x="428" dy="19.3">大。您明白………使得我不得不牺牲休息时光</tspan><tspan x="428" dy="19.3">加班加点到深夜甚至到凌晨二、三点，如此大</tspan><tspan x="428" dy="19.3">的工作强度已快使我心有余而力不足了，毕竟</tspan><tspan x="428" dy="19.3">任何工作都就应在保证不影响身体建康的前提</tspan><tspan x="428" dy="19.3">下进行。相信这些状况您就应很了解。在竭尽</tspan><tspan x="428" dy="19.3">全力完成工作的同时我还不断探索更好的工作</tspan><tspan x="428" dy="19.3">方法，有效地提高了工作效率，降低了工作成</tspan><tspan x="428" dy="19.3">本，从而增加了收益。</tspan></text></g>
<g id="p6-a4" class="n"><rect x="420" y="2278" width="315" height="111.5" rx="5"/><text x="428" y="2300"><tspan x="428">同时我们所处的城市是一个正以惊人的速度向</tspan><tspan x="428" dy="19.3">前发展的城市，无论是经济还是消费水平在全</tspan><tspan x="428" dy="19.3">国都是名列前茅，而且目前的社会经济和物价</tspan><tspan x="428" dy="19.3">已呈通货膨胀的趋势。在这种形势下，现有的</tspan><tspan x="428" dy="19.3">工资水平已显得很单薄了。</tspan></text></g>
<g id="p6-a5" class="n"><rect x="420" y="2421" width="315" height="92.2" rx="5"/><text x="428" y="2443"><tspan x="428">鉴于以上因素，为了能更好地为公司效力，也</tspan><tspan x="428" dy="19.3">为了使自身能得到更好的发展，特此向您提出</tspan><tspan x="428" dy="19.3">加薪申请，申请从年月日开始工资提升到xx</tspan><tspan x="428" dy="19.3">万/年（xx元/月）。</tspan></text></g>
<g id="p6-a6" class="n"><rect x="420" y="2546" width="315" height="150.1" rx="5"/><text x="428" y="2568"><tspan x="428">人追求的目标越高，他的才能就发展的越快，</tspan><tspan x="428" dy="19.3">才能为企业创造更大的价值。然后如果对员工</tspan><tspan x="428" dy="19.3">的工作没有一个明确的激励手段和考核标准，</tspan><tspan x="428" dy="19.3">员工的素质、潜力高低、做多做少、做好做坏</tspan><tspan x="428" dy="19.3">拿的都是一样的工资，那对他们来说，为工作</tspan><tspan x="428" dy="19.3">付出的满腔热情、牺牲的休息时光和身体健康</tspan><tspan x="428" dy="19.3">是不公平和不值得的。</tspan></text></g>
<g id="p6-a7" class="n"><rect x="420" y="2729" width="315" height="188.7" rx="5"/><text x="428" y="2751"><tspan x="428">薪酬是衡量工作价值的最佳标准。薪资的高低</tspan><tspan x="428" dy="19.3">直接决定了员工工作绩效和质量的高低，然后</tspan><tspan x="428" dy="19.3">以及工作情绪的好坏。从某种程度上说，一份</tspan><tspan x="428" dy="19.3">好的薪资给员工带来的是强大的激励，然后也</tspan><tspan x="428" dy="19.3">带动了工作用心性；反之增加怠工情绪，影响</tspan><tspan x="428" dy="19.3">工作效率和收益，最终影响企业潜能的开发。</tspan><tspan x="428" dy="19.3">我相信对于有必须潜力和执行力的员工，老板</tspan><tspan x="428" dy="19.3">是不会吝啬的，使之能够解除后顾之忧，安心</tspan><tspan x="428" dy="19.3">为企服业务。</tspan></text></g>
<g id="p6-a8" class="n"><rect x="420" y="2949" width="315" height="150.1" rx="5"/><text x="428" y="2971"><tspan x="428">在那里我不用说自我工作做得怎样样、工作态</tspan><tspan x="428" dy="19.3">度怎样样，因为您是我的直接领导，这些您就</tspan><tspan x="428" dy="19.3">应十分了解，您甚至能够从同事们那里得到对</tspan><tspan x="428" dy="19.3">我的评价。提出这样的薪金要求，然后并不是</tspan><tspan x="428" dy="19.3">"居功自傲"，我所付出的谈不上"功"，所以请</tspan><tspan x="428" dy="19.3">不要误会我的本意，我只是实话实说。我相信</tspan><tspan x="428" dy="19.3">：只要付出，就会有收获！</tspan></text></g>
<g id="p6-a9" class="n"><rect x="420" y="3131" width="315" height="111.5" rx="5"/><text x="428" y="3153"><tspan x="428">如果您认为我此刻的工作资料及质量还未能到</tspan><tspan x="428" dy="19.3">达这个薪金标准，我诚恳地期望您能提出宝贵</tspan><tspan x="428" dy="19.3">的意见或推荐，让我今后有一个努力的方向和</tspan><tspan x="428" dy="19.3">目标，在提升自我潜力的同时将工作做的更好</tspan><tspan x="428" dy="19.3">，向更高的目标迈进。</tspan></text></g>
<g id="p6-a10" class="n"><rect x="420" y="3274" width="315" height="53.6" rx="5"/><text x="428" y="3296"><tspan x="428">当然加薪不是目的，只是期望让我们做得更好</tspan><tspan x="428" dy="19.3">！</tspan></text></g>
<g id="p6-a11" class="n"><rect x="615" y="3360" width="120" height="34.3" rx="5"/><text x="623" y="3382">期盼您的答复。</text></g>
<g id="p6-a12" class="n"><rect x="690" y="3426" width="45" height="34.3" rx="5"/><text x="698" y="3448">此致</text></g>
<g id="p6-a13" class="n"><rect x="690" y="3493" width="45" height="34.3" rx="5"/><text x="698" y="3515">敬礼</text></g>
<g id="p6-a14" class="n"><rect x="637" y="3559" width="98" height="34.3" rx="5"/><text x="645" y="3581">申请人：xxx</text></g>
<g id="p6-a15" class="n"><rect x="629" y="3626" width="106" height="34.3" rx="5"/><text x="637" y="3648">xx年xx月xx日</text></g>

<!-- 篇八 -->
<g id="p8-a" class="n"><rect x="629" y="4398" width="106" height="34.3" rx="5"/><text x="637" y="4420">xx县公安局:</text></g>
<g id="p8-a1" class="n"><rect x="286" y="3692" width="315" height="169.4" rx="5"/><text x="294" y="3714"><tspan x="294">成立秀山县xx镇xx村互助资金协会是在市场</tspan><tspan x="294" dy="19.3">经济的发展过程中，为了提高组织化程度和解</tspan><tspan x="294" dy="19.3">决农户产业发展"瓶颈"，增强农户发展产业积</tspan><tspan x="294" dy="19.3">极性。在遵守现行政策法规的前提下，结合</tspan><tspan x="294" dy="19.3">xx村产业发展的实际和农户的意志，按照自</tspan><tspan x="294" dy="19.3">愿、互利原则。对xx村产业发展和生产经营</tspan><tspan x="294" dy="19.3">进行资金筹资、借款服务，依法成立的农民互</tspan><tspan x="294" dy="19.3">助合作组织。</tspan></text></g>
<g id="p8-a2" class="n"><rect x="436" y="3988" width="165" height="34.3" rx="5"/><text x="444" y="4010">一、互助资金协会宗旨</text></g>
<g id="p8-a3" class="n"><rect x="436" y="4289" width="165" height="34.3" rx="5"/><text x="444" y="4311">二、互助资金协会任务</text></g>
<g id="p8-a4" class="n"><rect x="406" y="4574" width="195" height="34.3" rx="5"/><text x="414" y="4596">三、互助资金协会资金来源</text></g>
<g id="p8-a5" class="n"><rect x="496" y="4760" width="105" height="34.3" rx="5"/><text x="504" y="4782">四、会员分布</text></g>
<g id="p8-a6" class="n"><rect x="496" y="5036" width="105" height="34.3" rx="5"/><text x="504" y="5058">五、协会地址</text></g>
<g id="p8-a2-1" class="n"><rect x="94" y="3893" width="315" height="34.3" rx="5"/><text x="102" y="3915">（一）按照民办、民管、民受益的原则成立。</text></g>
<g id="p8-a2-2" class="n"><rect x="94" y="3959" width="315" height="72.9" rx="5"/><text x="102" y="3981"><tspan x="102">（三）实行自主经营，自我服务、自我约束、</tspan><tspan x="102" dy="19.3">自我管理、利益共享、风险共担、入会自愿、</tspan><tspan x="102" dy="19.3">退会自由。</tspan></text></g>
<g id="p8-a2-3" class="n"><rect x="94" y="4065" width="315" height="72.9" rx="5"/><text x="102" y="4087"><tspan x="102">（三）依法开展生产经营，在经营和其他活动</tspan><tspan x="102" dy="19.3">中承担民事责任，并接受当地政府及业务主管</tspan><tspan x="102" dy="19.3">部门的指导和监督。</tspan></text></g>
<g id="p8-a3-1" class="n"><rect x="94" y="4170" width="315" height="72.9" rx="5"/><text x="102" y="4192"><tspan x="102">（一）为协会会员提供产业发展所需的资金的</tspan><tspan x="102" dy="19.3">筹资、借贷业务，解决农户产业发展的资金"</tspan><tspan x="102" dy="19.3">瓶颈"；</tspan></text></g>
<g id="p8-a3-2" class="n"><rect x="94" y="4275" width="315" height="72.9" rx="5"/><text x="102" y="4297"><tspan x="102">（二）组织开展金银花、白术等产业发展和生</tspan><tspan x="102" dy="19.3">产经营中的技术指导、咨询、培训和交流等活</tspan><tspan x="102" dy="19.3">动，向会员编发生产技术和经营信息等资料；</tspan></text></g>
<g id="p8-a3-3" class="n"><rect x="94" y="4380" width="315" height="53.6" rx="5"/><text x="102" y="4402"><tspan x="102">（三）开展会员需要的法律、保险、担保等服</tspan><tspan x="102" dy="19.3">务。</tspan></text></g>
<g id="p8-a4-1" class="n"><rect x="245" y="4466" width="134" height="34.3" rx="5"/><text x="253" y="4488">（一）会员会费；</text></g>
<g id="p8-a4-2" class="n"><rect x="215" y="4532" width="164" height="34.3" rx="5"/><text x="223" y="4554">（二）政府扶持资金；</text></g>
<g id="p8-a4-3" class="n"><rect x="64" y="4598" width="315" height="53.6" rx="5"/><text x="72" y="4620"><tspan x="72">（三）协会从筹资、借贷服务结余中提取的公</tspan><tspan x="72" dy="19.3">积金、公益金；</tspan></text></g>
<g id="p8-a4-4" class="n"><rect x="215" y="4684" width="164" height="34.3" rx="5"/><text x="223" y="4706">（四）其他合法资金。</text></g>
<g id="p8-a5-1" class="n"><rect x="154" y="4750" width="315" height="53.6" rx="5"/><text x="162" y="4772"><tspan x="162">本协会会员分布于xx镇镇xx村行政区域内各</tspan><tspan x="162" dy="19.3">村民小组及自然村。</tspan></text></g>
<g id="p8-a6-1" class="n"><rect x="154" y="4836" width="315" height="53.6" rx="5"/><text x="162" y="4858"><tspan x="162">本协会办公地址为：秀山县xx镇xx村旧屋基</tspan><tspan x="162" dy="19.3">组</tspan></text></g>
<g id="p8-a6-2" class="n"><rect x="394" y="4921" width="75" height="34.3" rx="5"/><text x="402" y="4943">邮政编码</text></g>
<g id="p8-a6-3" class="n"><rect x="154" y="4987" width="315" height="72.9" rx="5"/><text x="162" y="5009"><tspan x="162">目前，本协会筹备组已完成各项筹备工作，并</tspan><tspan x="162" dy="19.3">召开了会员代表大会，推选了各机构成员，现</tspan><tspan x="162" dy="19.3">申请成立，请予审查。</tspan></text></g>
<g id="p8-a6-4" class="n"><rect x="379" y="5093" width="90" height="34.3" rx="5"/><text x="387" y="5115">特此申请。</text></g>
<g id="p8-a6-5" class="n"><rect x="371" y="5159" width="98" height="34.3" rx="5"/><text x="379" y="5181">申请人：xxx</text></g>
<g id="p8-a6-6" class="n"><rect x="346" y="5225" width="123" height="34.3" rx="5"/><text x="354" y="5247">20xx年xx月xx日</text></g>
</g>
</svg>
